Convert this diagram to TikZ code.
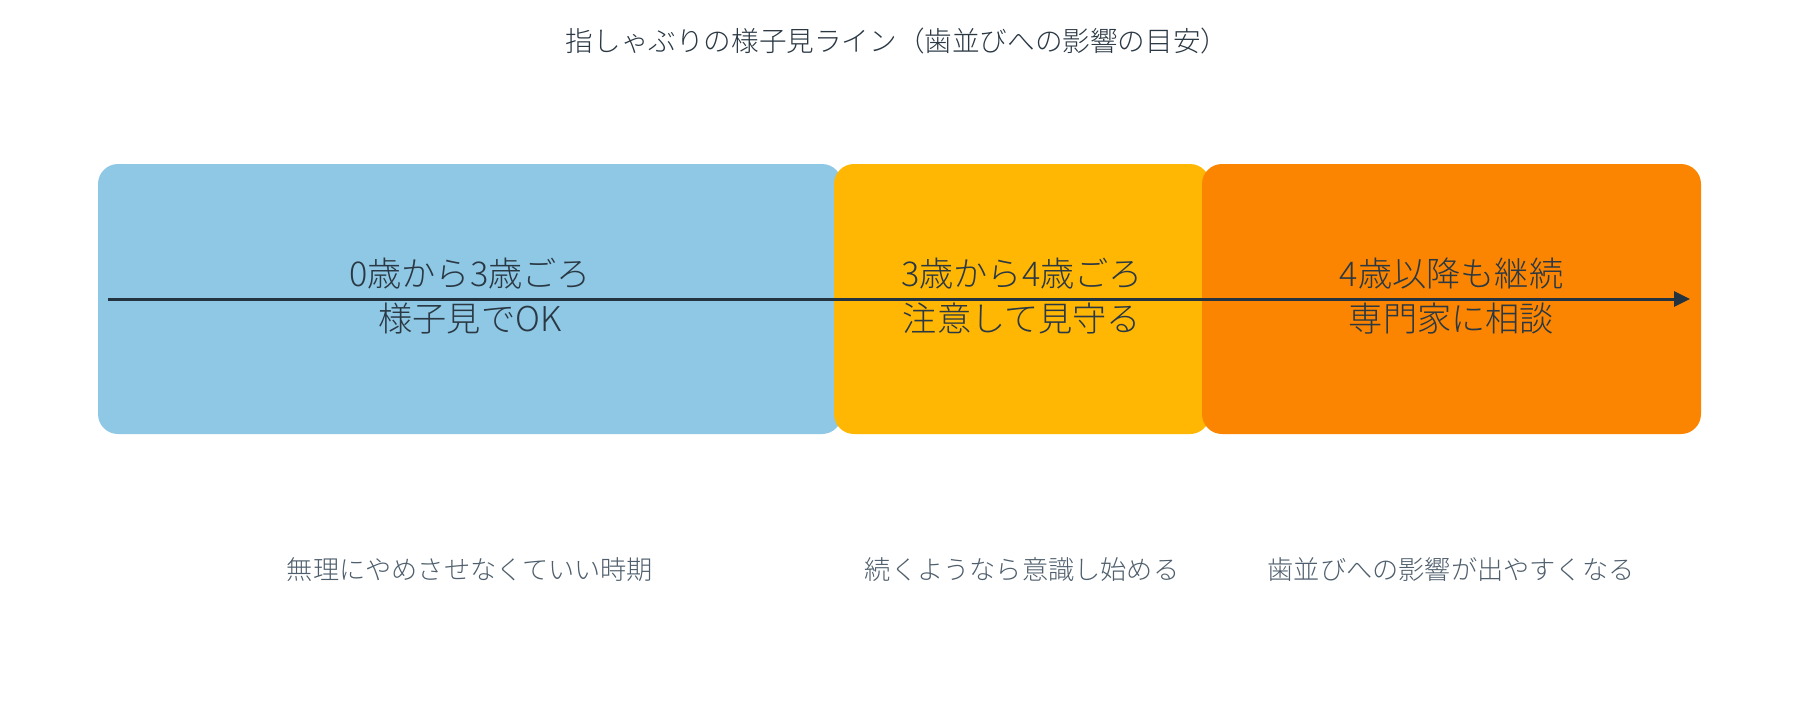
\documentclass[tikz,border=0pt]{standalone}
\usepackage{fontspec}
\setmainfont{Noto Sans CJK JP}[UprightFont={* Light}]
\usetikzlibrary{arrows.meta}
\definecolor{cblue}{HTML}{8FC8E4}
\definecolor{cyellow}{HTML}{FFB703}
\definecolor{corange}{HTML}{FB8500}
\definecolor{ctext}{HTML}{2A3844}
\definecolor{csub}{HTML}{4E5E6C}
\definecolor{carrow}{HTML}{233340}
\tikzset{
  band/.style={rounded corners=10pt, inner sep=0pt, align=center, text=ctext,
    minimum height=135pt, font=\fontsize{17.1}{22.5}\selectfont},
  sublabel/.style={text=csub, font=\fontsize{13.1}{15}\selectfont, inner sep=0pt},
  titlelabel/.style={text=ctext, font=\fontsize{13.8}{15}\selectfont, inner sep=0pt},
  timeline/.style={draw=carrow, line width=1.5pt, -{Triangle[length=8pt,width=7.5pt]}}
}
\begin{document}
\begin{tikzpicture}[x=0.5pt,y=-0.5pt]
\useasboundingbox (0,0) rectangle (1800,720);
\node[band, fill=cblue, minimum width=372pt] (b1) at (470,299) {};
\node[band, fill=cyellow, minimum width=188pt] (b2) at (1022,299) {};
\node[band, fill=corange, minimum width=249.5pt] (b3) at (1451.5,299) {};
\coordinate (as) at (108,299);
\coordinate (ae) at (1690,299);
\draw[timeline] (as) -- (ae);
\node[band] (t1) at (470,296) {0歳から3歳ごろ\\様子見でOK};
\node[band] (t2) at (1022,296) {3歳から4歳ごろ\\注意して見守る};
\node[band] (t3) at (1451.5,296) {4歳以降も継続\\専門家に相談};
\node[titlelabel] (title) at (897,41) {指しゃぶりの様子見ライン（歯並びへの影響の目安）};
\node[sublabel] (s1) at (470,570) {無理にやめさせなくていい時期};
\node[sublabel] (s2) at (1022,570) {続くようなら意識し始める};
\node[sublabel] (s3) at (1451,570) {歯並びへの影響が出やすくなる};
\end{tikzpicture}
\end{document}
